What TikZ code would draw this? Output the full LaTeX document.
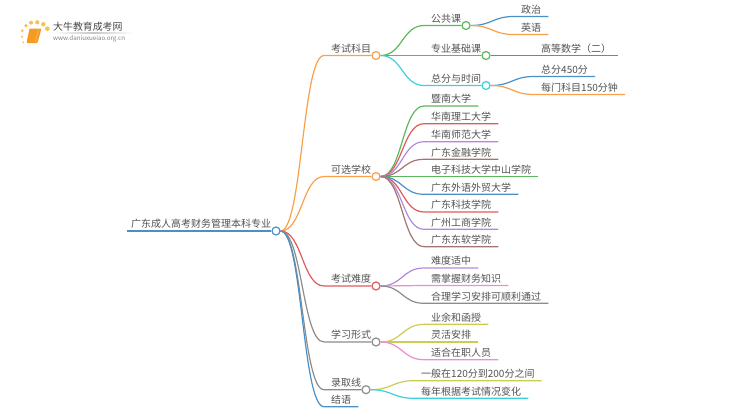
\documentclass[tikz,border=0pt]{standalone}
\usepackage{fontspec}
\setmainfont{Noto Sans CJK SC}
\usepackage{tikz}
\usetikzlibrary{calc}

\definecolor{lineblue}{HTML}{4A90C8}
\definecolor{lineorange}{HTML}{F9A04B}
\definecolor{linegreen}{HTML}{5DB75D}
\definecolor{linered}{HTML}{E05A5A}
\definecolor{linepurple}{HTML}{B388DB}
\definecolor{linebrown}{HTML}{A1766E}
\definecolor{linecyan}{HTML}{3CCFDD}
\definecolor{linepink}{HTML}{F08CD0}
\definecolor{linegray}{HTML}{8C8C8C}
\definecolor{lineolive}{HTML}{CCCC55}
\definecolor{logodot}{HTML}{FBC04E}
\definecolor{logobook}{HTML}{F59A23}

\tikzset{
  label/.style={anchor=south west,inner xsep=7pt,inner ysep=1.5pt,text height=8.5pt,text depth=1.5pt,
    text=black!68,font=\fontsize{10}{12}\selectfont},
  dot/.style={draw,circle,fill=white,minimum size=8pt,inner sep=0pt,line width=1.2pt},
  branch/.style={line width=1.2pt,to path={let \p1=(\tikztostart),\p2=(\tikztotarget) in
    .. controls ({(\x1+\x2)/2},\y1) and ({(\x1+\x2)/2},\y2) .. (\tikztotarget)}},
  stem/.style={line width=1.2pt}
}

\begin{document}
\begin{tikzpicture}[x=1pt,y=-1pt]
\useasboundingbox (0,0) rectangle (750,410);

% logo
\fill[left color=white,right color=white,middle color=black!22] (53,32.6) rectangle (133,33.2);
\fill[logodot] (23.3,42.3) circle (1);
\fill[logodot] (22,36.7) circle (1.2);
\fill[logodot] (22.3,30.7) circle (1.5);
\fill[logodot] (26,25.7) circle (1.8);
\fill[logodot] (31,22.7) circle (2);
\fill[logodot] (37.3,22.3) circle (2.1);
\fill[logodot] (43.3,24.3) circle (2.2);
\fill[logodot] (47.3,28.7) circle (2.3);
\fill[logobook,rounded corners=1pt] (29.5,28.5) -- (41.5,28.5) -- (37.5,43) -- (26.5,43) -- cycle;
\draw[logobook!60!white,line width=.5pt] (38.5,30) -- (35.3,41.5);
\node[anchor=west,inner sep=0pt,text=black!72,font=\fontsize{9.9}{12}\selectfont] (logoname) at (53,27) {大牛教育成考网};
\node[anchor=west,inner sep=0pt,text=black!50,font=\fontsize{6.2}{8}\selectfont] (logourl) at (53,39) {www.daniuxueiao.org.cn};

% root
\node[label,inner xsep=4pt] (root) at (127,231) {广东成人高考财务管理本科专业};
\node[dot,draw=lineblue] (rootdot) at (276,231) {};
\draw[stem,lineblue] (root.south west) -- (rootdot.west);

% first level
\node[label] (kemu) at (324,55.5) {考试科目};
\node[dot,draw=lineorange] (kemudot) at (376,55.5) {};
\node[label] (xuexiao) at (324,176.5) {可选学校};
\node[dot,draw=lineorange] (xuexiaodot) at (376,176.5) {};
\node[label] (nandu) at (324,286) {考试难度};
\node[dot,draw=linered] (nandudot) at (376,286) {};
\node[label] (xingshi) at (324,342) {学习形式};
\node[dot,draw=linegray] (xingshidot) at (376,342) {};
\node[label] (luqu) at (324,389.7) {录取线};
\node[dot,draw=linegray] (luqudot) at (366,389.7) {};
\node[label] (jieyu) at (324,406.7) {结语};

\draw[branch,lineorange] (rootdot.east) to (kemu.south west) -- (kemudot.west);
\draw[branch,lineorange] (rootdot.east) to (xuexiao.south west) -- (xuexiaodot.west);
\draw[branch,linered] (rootdot.east) to (nandu.south west) -- (nandudot.west);
\draw[branch,linegray] (rootdot.east) to (xingshi.south west) -- (xingshidot.west);
\draw[branch,linegray] (rootdot.east) to (luqu.south west) -- (luqudot.west);
\draw[branch,lineblue] (rootdot.east) to (jieyu.south west) -- (jieyu.south east);

% kaoshi kemu
\node[label] (gonggong) at (424,25.5) {公共课};
\node[dot,draw=linegreen] (gonggongdot) at (466,25.5) {};
\node[label] (jichu) at (424,55.5) {专业基础课};
\node[dot,draw=linegreen] (jichudot) at (486,55.5) {};
\node[label] (zongfen) at (424,85.5) {总分与时间};
\node[dot,draw=linecyan] (zongfendot) at (486,85.5) {};

\draw[branch,linegreen] (kemudot.east) to (gonggong.south west) -- (gonggongdot.west);
\draw[stem,linegreen] (kemudot.east) -- (jichudot.west);
\draw[branch,linecyan] (kemudot.east) to (zongfen.south west) -- (zongfendot.west);

\node[label] (zhengzhi) at (514,16.5) {政治};
\node[label] (yingyu) at (514,34.5) {英语};
\node[label] (shuxue) at (534,55.5) {高等数学（二）};
\node[label] (zongfen450) at (534,76.5) {总分450分};
\node[label] (meimen) at (534,94.5) {每门科目150分钟};

\draw[branch,lineblue] (gonggongdot.east) to (zhengzhi.south west) -- (zhengzhi.south east);
\draw[branch,lineorange] (gonggongdot.east) to (yingyu.south west) -- (yingyu.south east);
\draw[stem,linered] (jichudot.east) -- (shuxue.south east);
\draw[branch,lineblue] (zongfendot.east) to (zongfen450.south west) -- (zongfen450.south east);
\draw[branch,lineorange] (zongfendot.east) to (meimen.south west) -- (meimen.south east);

% kexuan xuexiao
\node[label] (jinan) at (424,106) {暨南大学};
\node[label] (huali) at (424,123.7) {华南理工大学};
\node[label] (huashi) at (424,141.7) {华南师范大学};
\node[label] (jinrong) at (424,159.3) {广东金融学院};
\node[label] (dianzi) at (424,176.5) {电子科技大学中山学院};
\node[label] (waiyu) at (424,194.3) {广东外语外贸大学};
\node[label] (keji) at (424,212) {广东科技学院};
\node[label] (gongshang) at (424,229.3) {广州工商学院};
\node[label] (dongruan) at (424,246.7) {广东东软学院};

\draw[branch,linegreen] (xuexiaodot.east) to (jinan.south west) -- (jinan.south east);
\draw[branch,linered] (xuexiaodot.east) to (huali.south west) -- (huali.south east);
\draw[branch,linepurple] (xuexiaodot.east) to (huashi.south west) -- (huashi.south east);
\draw[branch,linebrown] (xuexiaodot.east) to (jinrong.south west) -- (jinrong.south east);
\draw[stem,linegreen] (xuexiaodot.east) -- (dianzi.south east);
\draw[branch,lineblue] (xuexiaodot.east) to (waiyu.south west) -- (waiyu.south east);
\draw[branch,linered] (xuexiaodot.east) to (keji.south west) -- (keji.south east);
\draw[branch,linepurple] (xuexiaodot.east) to (gongshang.south west) -- (gongshang.south east);
\draw[branch,linebrown] (xuexiaodot.east) to (dongruan.south west) -- (dongruan.south east);

% kaoshi nandu
\node[label] (shizhong) at (424,268) {难度适中};
\node[label] (zhishi) at (424,285.5) {需掌握财务知识};
\node[label] (anpai) at (424,303.3) {合理学习安排可顺利通过};

\draw[branch,linepurple] (nandudot.east) to (shizhong.south west) -- (shizhong.south east);
\draw[branch,linepink] (nandudot.east) to (zhishi.south west) -- (zhishi.south east);
\draw[branch,linegray] (nandudot.east) to (anpai.south west) -- (anpai.south east);

% xuexi xingshi
\node[label] (yeyu) at (424,324.3) {业余和函授};
\node[label] (linghuo) at (424,342) {灵活安排};
\node[label] (zaizhi) at (424,359.7) {适合在职人员};

\draw[branch,lineolive] (xingshidot.east) to (yeyu.south west) -- (yeyu.south east);
\draw[branch,lineolive] (xingshidot.east) to (linghuo.south west) -- (linghuo.south east);
\draw[branch,linepink] (xingshidot.east) to (zaizhi.south west) -- (zaizhi.south east);

% luqu xian
\node[label] (yiban) at (414,380.7) {一般在120分到200分之间};
\node[label] (meinian) at (414,398.3) {每年根据考试情况变化};

\draw[branch,lineolive] (luqudot.east) to (yiban.south west) -- (yiban.south east);
\draw[branch,linecyan] (luqudot.east) to (meinian.south west) -- (meinian.south east);
\end{tikzpicture}
\end{document}
